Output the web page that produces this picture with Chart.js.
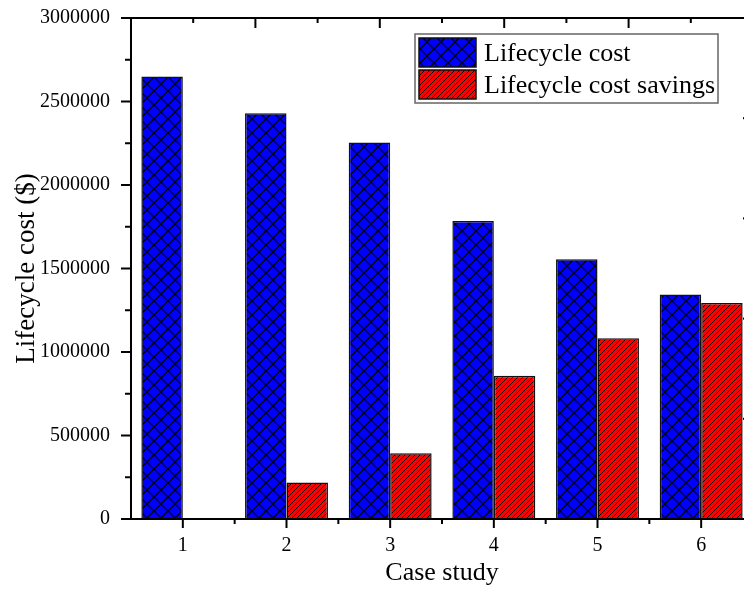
<!DOCTYPE html>
<html>
<head>
<meta charset="utf-8">
<script src="https://cdn.jsdelivr.net/npm/chart.js@4.4.1/dist/chart.umd.min.js"></script>
<style>
  html, body { margin: 0; padding: 0; background: #fff; overflow: hidden; }
</style>
</head>
<body>
<canvas id="costChart" width="760" height="590"></canvas>
<script>
const caseStudies = ['1', '2', '3', '4', '5', '6'];
const lifecycleCost = [2650000, 2430000, 2255000, 1785000, 1555000, 1345000];
const costSavings = [0, 218000, 393000, 858000, 1083000, 1293000];
const seriesNames = ['Lifecycle cost', 'Lifecycle cost savings'];

const FONT = '"Liberation Serif", "Times New Roman", serif';

// hatch fills, like the origin plot
function makePattern(kind) {
  const c = document.createElement('canvas');
  const p = c.getContext('2d');
  p.strokeStyle = '#000';
  if (kind === 'cross') {
    const s = 14, h = s / 2;
    c.width = s; c.height = s;
    p.fillStyle = '#0000ff';
    p.fillRect(0, 0, s, s);
    p.lineWidth = 1.2;
    p.beginPath();
    p.moveTo(0, h); p.lineTo(h, 0); p.lineTo(s, h); p.lineTo(h, s); p.closePath();
    p.stroke();
  } else {
    const s = 5;
    c.width = s; c.height = s;
    p.fillStyle = '#ff0000';
    p.fillRect(0, 0, s, s);
    p.lineWidth = 0.9;
    p.beginPath();
    p.moveTo(-1, s + 1); p.lineTo(s + 1, -1);
    p.moveTo(-1, 1); p.lineTo(1, -1);
    p.moveTo(s - 1, s + 1); p.lineTo(s + 1, s - 1);
    p.stroke();
  }
  return p.createPattern(c, 'repeat');
}

const ctx = document.getElementById('costChart').getContext('2d');
const crossFill = makePattern('cross');
const lineFill = makePattern('line');

function seg(c, x1, y1, x2, y2) {
  c.beginPath();
  c.moveTo(x1, y1);
  c.lineTo(x2, y2);
  c.stroke();
}

const framePlugin = {
  id: 'frame',
  afterDatasetsDraw(chart) {
    const { ctx: c, chartArea: a, scales: { x, y } } = chart;
    c.save();
    c.strokeStyle = '#000';
    c.lineWidth = 2;
    c.strokeRect(a.left, a.top, a.right - a.left, a.bottom - a.top);

    // left axis major + minor ticks
    for (let v = 0; v <= 3000000; v += 250000) {
      const py = y.getPixelForValue(v);
      seg(c, a.left - (v % 500000 === 0 ? 10 : 6), py, a.left, py);
    }
    // bottom ticks at cases and between them
    for (let i = 0; i < caseStudies.length; i++) {
      const px = x.getPixelForValue(i);
      seg(c, px, a.bottom, px, a.bottom + 9);
      if (i < caseStudies.length - 1) {
        const mid = (px + x.getPixelForValue(i + 1)) / 2;
        seg(c, mid, a.bottom, mid, a.bottom + 5);
      }
    }
    // top and right axes keep their own (unlabelled) spacing
    const w = a.right - a.left, h = a.bottom - a.top;
    for (let i = 1; i < 10; i++) {
      const px = a.left + w * i / 10;
      seg(c, px, a.top, px, a.top + (i % 2 === 0 ? 10 : 5));
    }
    for (let i = 1; i < 5; i++) {
      const py = a.bottom - h * i / 5;
      seg(c, a.right - 10, py, a.right, py);
    }
    c.restore();
  }
};

const legendPlugin = {
  id: 'boxLegend',
  afterDraw(chart) {
    const { ctx: c, chartArea: a } = chart;
    const left = a.right - 338, top = a.top + 16;
    c.save();
    c.fillStyle = '#fff';
    c.fillRect(left, top, 303, 69);
    c.strokeStyle = '#666';
    c.lineWidth = 1.5;
    c.strokeRect(left, top, 303, 69);
    const fills = [crossFill, lineFill];
    seriesNames.forEach((name, i) => {
      const sy = top + 4 + i * 32;
      c.fillStyle = fills[i];
      c.fillRect(left + 4, sy, 57, 29);
      c.strokeStyle = '#111';
      c.lineWidth = 1.5;
      c.strokeRect(left + 4, sy, 57, 29);
      c.fillStyle = '#000';
      c.font = '26px ' + FONT;
      c.textBaseline = 'alphabetic';
      c.fillText(name, left + 69, sy + 23);
    });
    c.restore();
  }
};

new Chart(ctx, {
  type: 'bar',
  data: {
    labels: caseStudies,
    datasets: [
      {
        label: seriesNames[0],
        data: lifecycleCost,
        backgroundColor: crossFill,
        borderColor: '#111',
        borderWidth: 1.5,
        borderSkipped: 'bottom',
        categoryPercentage: 0.8,
        barPercentage: 1.0
      },
      {
        label: seriesNames[1],
        data: costSavings,
        backgroundColor: lineFill,
        borderColor: '#111',
        borderWidth: 1.5,
        borderSkipped: 'bottom',
        categoryPercentage: 0.8,
        barPercentage: 1.0
      }
    ]
  },
  options: {
    responsive: false,
    animation: false,
    layout: { padding: { top: 18, right: 7, left: 0, bottom: 0 } },
    plugins: {
      legend: { display: false },
      tooltip: { enabled: false }
    },
    scales: {
      x: {
        grid: { display: false, drawTicks: false },
        border: { display: false },
        ticks: { color: '#000', font: { family: FONT, size: 20 }, padding: 15 },
        title: {
          display: true,
          text: 'Case study',
          color: '#000',
          font: { family: FONT, size: 26 },
          padding: { top: 0, bottom: 1 }
        },
        afterFit(scale) { scale.height = 71; }
      },
      y: {
        min: 0,
        max: 3000000,
        grid: { display: false, drawTicks: false },
        border: { display: false },
        ticks: {
          stepSize: 500000,
          color: '#000',
          font: { family: FONT, size: 20 },
          padding: 21,
          callback: v => String(v)
        },
        title: {
          display: true,
          text: 'Lifecycle cost ($)',
          color: '#000',
          font: { family: FONT, size: 27 },
          padding: { top: 11, bottom: 0 }
        },
        afterFit(scale) {
          scale.width = 131;
          // labels may hang over the frame, like the original
          scale.paddingTop = 0;
          scale.paddingBottom = 0;
        }
      }
    }
  },
  plugins: [framePlugin, legendPlugin]
});
</script>
</body>
</html>
